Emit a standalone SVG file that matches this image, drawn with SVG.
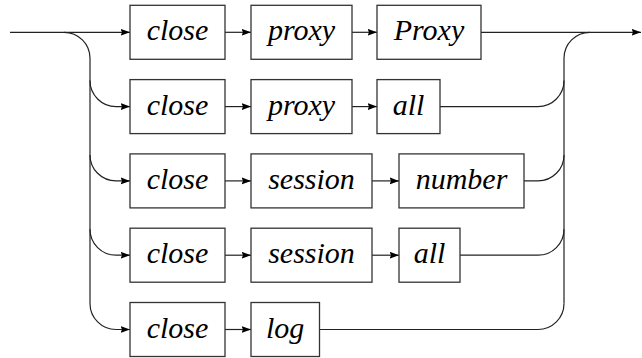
<svg xmlns="http://www.w3.org/2000/svg" width="642" height="358" viewBox="0 0 642 358">
<defs>
<style>
.box{fill:#fff;stroke:#333;stroke-width:1.3}
.lbl{font-family:"Liberation Serif","Times New Roman",serif;font-style:italic;font-size:30px;fill:#000;text-anchor:middle}
.ln{fill:none;stroke:#222;stroke-width:1.2}
</style>
<marker id="ah" markerWidth="10" markerHeight="8" refX="9.5" refY="3.5" orient="auto" markerUnits="userSpaceOnUse">
<path d="M0,0 L9.5,3.5 L0,7 L1.5,3.5 z" fill="#000"/>
</marker>
</defs>
<rect width="642" height="358" fill="#fff"/>
<g id="connectors">
<path class="ln" d="M10,32.3 H130" marker-end="url(#ah)"/>
<path class="ln" d="M64,32.3 A26 26 0 0 1 90 58.3 V303.5 A26 26 0 0 0 116 329.5 H130" marker-end="url(#ah)"/>
<path class="ln" d="M90,80.6 A26 26 0 0 0 116 106.6 H130" marker-end="url(#ah)"/>
<path class="ln" d="M90,154.9 A26 26 0 0 0 116 180.9 H130" marker-end="url(#ah)"/>
<path class="ln" d="M90,229.2 A26 26 0 0 0 116 255.2 H130" marker-end="url(#ah)"/>
<path class="ln" d="M225,32.3 H251" marker-end="url(#ah)"/>
<path class="ln" d="M352,32.3 H377" marker-end="url(#ah)"/>
<path class="ln" d="M225,106.6 H251" marker-end="url(#ah)"/>
<path class="ln" d="M352,106.6 H377" marker-end="url(#ah)"/>
<path class="ln" d="M225,180.9 H251" marker-end="url(#ah)"/>
<path class="ln" d="M372,180.9 H399" marker-end="url(#ah)"/>
<path class="ln" d="M225,255.2 H251" marker-end="url(#ah)"/>
<path class="ln" d="M372,255.2 H399" marker-end="url(#ah)"/>
<path class="ln" d="M225,329.5 H251" marker-end="url(#ah)"/>
<path class="ln" d="M481,32.3 H641" marker-end="url(#ah)"/>
<path class="ln" d="M564,303.5 V58.3 A26 26 0 0 1 590 32.3"/>
<path class="ln" d="M440,106.6 H538 A26 26 0 0 0 564 80.6"/>
<path class="ln" d="M524,180.9 H538 A26 26 0 0 0 564 154.9"/>
<path class="ln" d="M460,255.2 H538 A26 26 0 0 0 564 229.2"/>
<path class="ln" d="M319.5,329.5 H538 A26 26 0 0 0 564 303.5"/>
</g>
<g id="r1-close"><rect class="box" x="130" y="5.3" width="95" height="54"/><text class="lbl" x="177.5" y="40.3">close</text></g>
<g id="r1-proxy"><rect class="box" x="251" y="5.3" width="101" height="54"/><text class="lbl" x="301.5" y="40.3">proxy</text></g>
<g id="r1-Proxy"><rect class="box" x="377" y="5.3" width="104" height="54"/><text class="lbl" x="429" y="40.3">Proxy</text></g>
<g id="r2-close"><rect class="box" x="130" y="79.6" width="95" height="54"/><text class="lbl" x="177.5" y="114.6">close</text></g>
<g id="r2-proxy"><rect class="box" x="251" y="79.6" width="101" height="54"/><text class="lbl" x="301.5" y="114.6">proxy</text></g>
<g id="r2-all"><rect class="box" x="377" y="79.6" width="63" height="54"/><text class="lbl" x="408.5" y="114.6">all</text></g>
<g id="r3-close"><rect class="box" x="130" y="153.9" width="95" height="54"/><text class="lbl" x="177.5" y="188.9">close</text></g>
<g id="r3-session"><rect class="box" x="251" y="153.9" width="121" height="54"/><text class="lbl" x="311.5" y="188.9">session</text></g>
<g id="r3-number"><rect class="box" x="399" y="153.9" width="125" height="54"/><text class="lbl" x="461.5" y="188.9">number</text></g>
<g id="r4-close"><rect class="box" x="130" y="228.2" width="95" height="54"/><text class="lbl" x="177.5" y="263.2">close</text></g>
<g id="r4-session"><rect class="box" x="251" y="228.2" width="121" height="54"/><text class="lbl" x="311.5" y="263.2">session</text></g>
<g id="r4-all"><rect class="box" x="399" y="228.2" width="61" height="54"/><text class="lbl" x="429.5" y="263.2">all</text></g>
<g id="r5-close"><rect class="box" x="130" y="302.5" width="95" height="54"/><text class="lbl" x="177.5" y="337.5">close</text></g>
<g id="r5-log"><rect class="box" x="251" y="302.5" width="68.5" height="54"/><text class="lbl" x="285.2" y="337.5">log</text></g>
</svg>
